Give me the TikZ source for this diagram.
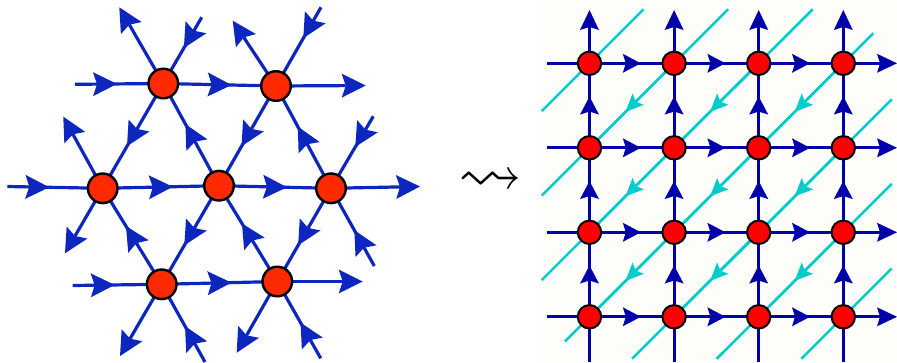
\documentclass[tikz,border=0pt]{standalone}
\usepackage{amssymb}
\usetikzlibrary{arrows.meta,decorations.markings,calc}
\definecolor{lb}{RGB}{12,38,190}
\definecolor{lr}{RGB}{255,42,0}
\definecolor{rb}{RGB}{0,0,170}
\definecolor{rr}{RGB}{255,0,0}
\definecolor{rc}{RGB}{0,204,204}
\definecolor{bgc}{RGB}{253,253,250}
\tikzset{
  LTip/.tip={Stealth[length=24pt,width=24pt,inset=4pt,line width=0pt]},
  RTip/.tip={Stealth[length=18pt,width=19pt,inset=3pt,line width=0pt]},
  RTipE/.tip={Stealth[length=20pt,width=19pt,inset=3pt,line width=0pt]},
  CTip/.tip={Stealth[length=18pt,width=16pt,inset=3.5pt,line width=0pt]},
  lline/.style={color=lb, line width=3.2pt},
  rline/.style={color=rb, line width=3pt},
  cline/.style={color=rc, line width=2.5pt},
  lmid/.style={postaction={decorate,decoration={markings,mark=at position #1 with {\arrow[xshift=12pt]{LTip}}}}},
  lmid/.default=0.5,
  rmid/.style={postaction={decorate,decoration={markings,mark=at position 0.5 with {\arrow[xshift=9pt]{RTip}}}}},
  cmid/.style={postaction={decorate,decoration={markings,mark=at position 0.5 with {\arrow[xshift=9pt]{CTip}}}}},
  ldot/.style={circle, draw=black, fill=lr, line width=2.4pt, minimum size=29.6pt, inner sep=0pt},
  rdot/.style={circle, draw=black, fill=rr, line width=2pt, minimum size=23.4pt, inner sep=0pt}
}
\begin{document}
\begin{tikzpicture}[x=1pt,y=-1pt]
\useasboundingbox (0,0) rectangle (897,362);
\fill[bgc] (538,0) rectangle (897,362);

% ---------------- left lattice ----------------
\coordinate (A) at (163.3,83.5);
\coordinate (B) at (276,86);
\coordinate (D) at (102.7,188.3);
\coordinate (E) at (219,185.7);
\coordinate (F) at (331,188.3);
\coordinate (G) at (161.7,284.3);
\coordinate (H) at (277.3,281.5);
% free ends
\coordinate (Al) at (75,84.3);
\coordinate (Dl) at (7.3,186.5);
\coordinate (Gl) at (72.7,285.5);
\coordinate (Br) at (365.7,85.5);
\coordinate (Fr) at (420,186.5);
\coordinate (Hr) at (362.7,281.5);
\coordinate (Aur) at (201.7,17.3);
\coordinate (Bur) at (321,7.3);
\coordinate (Fur) at (373.3,116.3);
\coordinate (Ddl) at (65,253.3);
\coordinate (Gdl) at (120,356);
\coordinate (Hdl) at (236.7,352.7);
\coordinate (Fdr) at (374.3,266);
\coordinate (Gdr) at (205,362);
\coordinate (Hdr) at (320.7,358.3);
\coordinate (Aul) at (119.3,7.3);
\coordinate (Bul) at (232.7,20.7);
\coordinate (Dul) at (63.3,116.7);

% internal edges
\draw[lline,lmid] (A) -- (B);
\draw[lline,lmid] (D) -- (E);
\draw[lline,lmid] (E) -- (F);
\draw[lline,lmid] (G) -- (H);
\draw[lline,lmid] (A) -- (D);
\draw[lline,lmid] (B) -- (E);
\draw[lline,lmid] (E) -- (G);
\draw[lline,lmid] (F) -- (H);
\draw[lline,lmid] (E) -- (A);
\draw[lline,lmid] (F) -- (B);
\draw[lline,lmid] (G) -- (D);
\draw[lline,lmid] (H) -- (E);
% inward external edges
\draw[lline,lmid=30pt] (Al) -- (A);
\draw[lline,lmid=30pt] (Dl) -- (D);
\draw[lline,lmid=30pt] (Gl) -- (G);
\draw[lline,lmid=23.5pt] (Aur) -- (A);
\draw[lline,lmid=23.5pt] (Bur) -- (B);
\draw[lline,lmid=23.5pt] (Fur) -- (F);
\draw[lline,lmid=29pt] (Fdr) -- (F);
\draw[lline,lmid=29pt] (Gdr) -- (G);
\draw[lline,lmid=29pt] (Hdr) -- (H);
% outward external edges
\draw[lline,-{LTip}] (B) -- (Br);
\draw[lline,-{LTip}] (F) -- (Fr);
\draw[lline,-{LTip}] (H) -- (Hr);
\draw[lline,-{LTip}] (D) -- (Ddl);
\draw[lline,-{LTip}] (G) -- (Gdl);
\draw[lline,-{LTip}] (H) -- (Hdl);
\draw[lline,-{LTip}] (A) -- (Aul);
\draw[lline,-{LTip}] (B) -- (Bul);
\draw[lline,-{LTip}] (D) -- (Dul);

\foreach \p in {A,B,D,E,F,G,H} \node[ldot] (n\p) at (\p) {};

% ---------------- squiggle ----------------
\node[inner sep=0pt] (sq) at (490,182) {\fontsize{64}{70}\selectfont$\rightsquigarrow$};

% ---------------- right grid ----------------
\foreach \c in {0,...,3} {
  \foreach \r in {0,...,3} {
    \coordinate (q\c\r) at ({589.5+84.6*\c},{63.3+84.5*\r});
  }
}
% cyan diagonals
\coordinate (k0a) at ($(q00)+(-47.8,47.8)$);  \coordinate (k0b) at ($(q00)+(54,-54)$);
\coordinate (k1a) at ($(q01)+(-47.8,47.8)$);  \coordinate (k1b) at ($(q10)+(54,-54)$);
\coordinate (k2a) at ($(q02)+(-47.8,47.8)$);  \coordinate (k2b) at ($(q20)+(54,-54)$);
\coordinate (k3a) at ($(q03)+(-24.5,24.5)$);  \coordinate (k3b) at ($(q30)+(30,-30)$);
\coordinate (k4a) at ($(q13)+(-42,42)$);      \coordinate (k4b) at ($(q31)+(48.4,-48.4)$);
\coordinate (k5a) at ($(q23)+(-42,42)$);      \coordinate (k5b) at ($(q32)+(48.4,-48.4)$);
\coordinate (k6a) at ($(q33)+(-42,42)$);      \coordinate (k6b) at ($(q33)+(48.4,-48.4)$);
\foreach \k in {0,...,6} \draw[cline] (k\k a) -- (k\k b);
\foreach \c [evaluate=\c as \n using int(\c+1)] in {0,1,2} {
  \foreach \r [evaluate=\r as \m using int(\r+1)] in {0,1,2} {
    \draw[cline,cmid] (q\n\r) -- (q\c\m);
  }
}
% blue rows
\foreach \r in {0,...,3} {
  \coordinate (ql\r) at (547,{63.3+84.5*\r});
  \coordinate (qr\r) at (897,{63.3+84.5*\r});
  \draw[rline] (ql\r) -- (q0\r);
  \draw[rline,-{RTipE}] (q3\r) -- (qr\r);
  \foreach \c [evaluate=\c as \n using int(\c+1)] in {0,1,2} {
    \draw[rline,rmid] (q\c\r) -- (q\n\r);
  }
}
% blue columns
\foreach \c in {0,...,3} {
  \coordinate (qb\c) at ({589.5+84.6*\c},362);
  \coordinate (qt\c) at ({589.5+84.6*\c},10);
  \draw[rline] (qb\c) -- (q\c3);
  \draw[rline,-{RTipE}] (q\c0) -- (qt\c);
  \foreach \r [evaluate=\r as \p using int(\r-1)] in {1,2,3} {
    \draw[rline,rmid] (q\c\r) -- (q\c\p);
  }
}
\foreach \c in {0,...,3} {
  \foreach \r in {0,...,3} {
    \node[rdot] (m\c\r) at (q\c\r) {};
  }
}
\end{tikzpicture}
\end{document}
